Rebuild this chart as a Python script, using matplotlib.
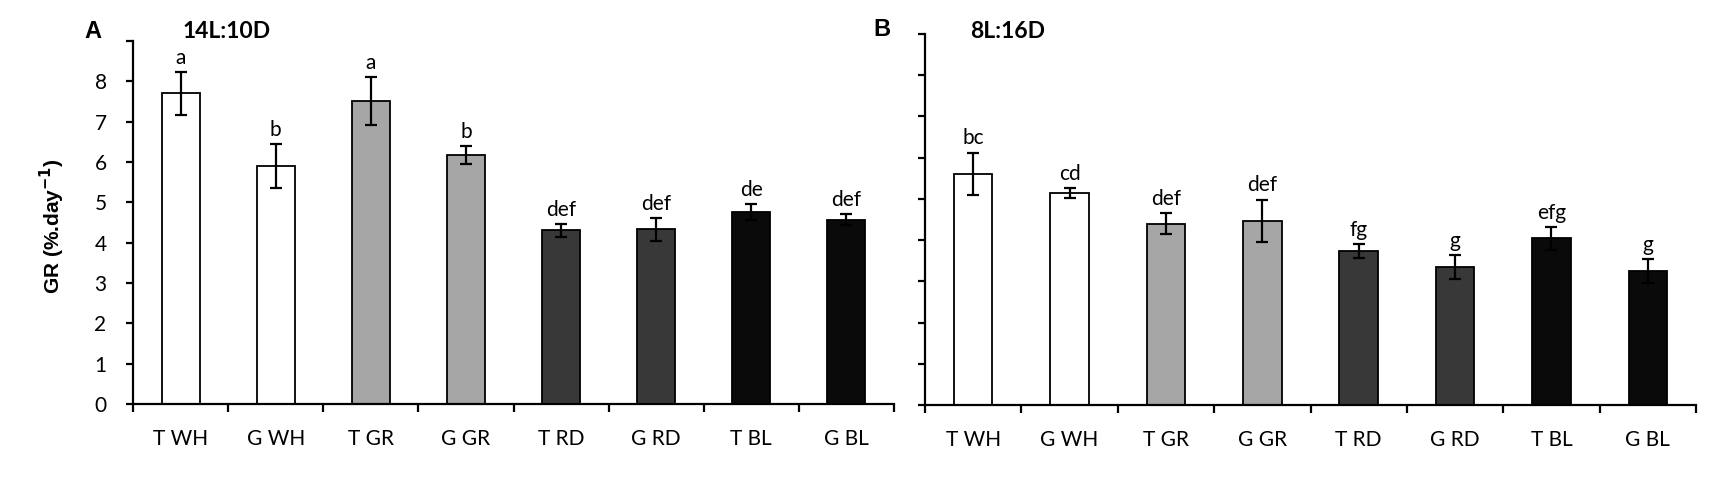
import numpy as np
import matplotlib.pyplot as plt
from matplotlib import font_manager

# pick a Calibri-like font that is installed
names = {f.name for f in font_manager.fontManager.ttflist}
body_font = 'Lato' if 'Lato' in names else 'DejaVu Sans'

cats = ['T WH', 'G WH', 'T GR', 'G GR', 'T RD', 'G RD', 'T BL', 'G BL']
bar_colors = ['white', 'white', '#a6a6a6', '#a6a6a6', '#383838', '#383838', '#0a0a0a', '#0a0a0a']

# growth rate, 14L:10D
gr_14 = [7.70, 5.90, 7.51, 6.17, 4.31, 4.33, 4.76, 4.57]
err_14 = [0.54, 0.55, 0.60, 0.22, 0.16, 0.29, 0.20, 0.14]
let_14 = ['a', 'b', 'a', 'b', 'def', 'def', 'de', 'def']

# growth rate, 8L:16D
gr_8 = [5.61, 5.14, 4.40, 4.47, 3.73, 3.34, 4.04, 3.25]
err_8 = [0.51, 0.13, 0.26, 0.51, 0.17, 0.29, 0.28, 0.28]
let_8 = ['bc', 'cd', 'def', 'def', 'fg', 'g', 'efg', 'g']

W, H = 1732, 493
fig = plt.figure(figsize=(W / 100, H / 100), dpi=100)
ax1 = fig.add_axes([133 / W, 1 - 404 / H, 761 / W, 363 / H])
ax2 = fig.add_axes([925 / W, 1 - 405 / H, 771 / W, 371 / H])


def draw_panel(ax, vals, errs, letters, show_ylabels):
    x = np.arange(len(cats))
    ax.bar(x, vals, width=0.4, color=bar_colors, edgecolor='black', linewidth=1.3, zorder=2)
    ax.errorbar(x, vals, yerr=errs, fmt='none', ecolor='black', elinewidth=1.6,
                capsize=4, capthick=1.6, zorder=3)
    for xi, v, e, s in zip(x, vals, errs, letters):
        ax.text(xi, v + e + 0.2, s, ha='center', va='baseline', fontsize=15,
                family=body_font)

    ax.set_xlim(-0.5, 7.5)
    ax.set_ylim(0, 9)
    for side in ['top', 'right']:
        ax.spines[side].set_visible(False)
    for side in ['left', 'bottom']:
        ax.spines[side].set_linewidth(1.6)

    # boundary ticks (major) and centred labels (minor)
    ax.set_xticks(np.arange(-0.5, 8, 1))
    ax.set_xticklabels([])
    ax.set_xticks(x, minor=True)
    ax.set_xticklabels(cats, minor=True, fontsize=15, family=body_font)
    ax.tick_params(axis='x', which='major', direction='out', length=6, width=1.6)
    ax.tick_params(axis='x', which='minor', length=0, pad=18)

    ax.set_yticks(np.arange(0, 10, 1))
    if show_ylabels:
        ax.set_yticklabels([str(i) for i in range(9)] + [''], fontsize=15, family=body_font)
    else:
        ax.set_yticklabels([])
    ax.tick_params(axis='y', direction='out', length=5, width=1.6, pad=14)


draw_panel(ax1, gr_14, err_14, let_14, True)
draw_panel(ax2, gr_8, err_8, let_8, False)

ax1.set_ylabel('GR (%.day$^{\\mathbf{-1}}$)', fontsize=15, fontweight='bold',
               family='Liberation Sans')
ax1.yaxis.set_label_coords(-66 / 761, 0.49)

fig.text(93 / W, 1 - 32 / H, 'A', fontsize=17, fontweight='bold',
         family='Liberation Sans', ha='center', va='center')
fig.text(183 / W, 1 - 32 / H, '14L:10D', fontsize=16.5, fontweight='bold',
         family=body_font, ha='left', va='center')
fig.text(882 / W, 1 - 30 / H, 'B', fontsize=17, fontweight='bold',
         family='Liberation Sans', ha='center', va='center')
fig.text(970 / W, 1 - 32 / H, '8L:16D', fontsize=16.5, fontweight='bold',
         family=body_font, ha='left', va='center')

fig.savefig('out.png', dpi=100)
